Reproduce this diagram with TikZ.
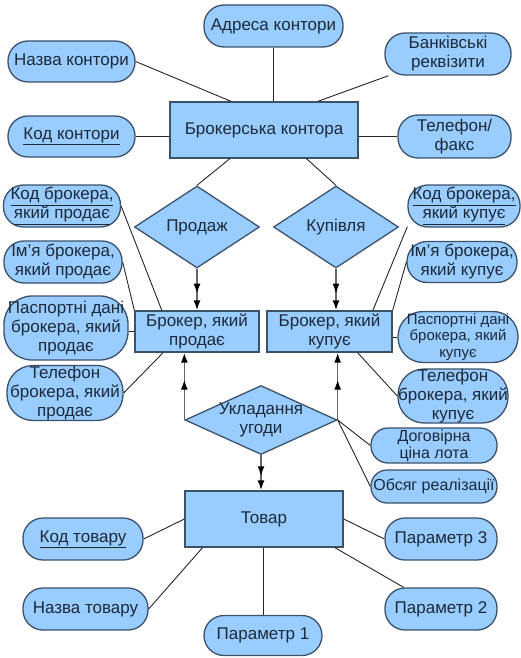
\documentclass[tikz,border=0pt]{standalone}
\usepackage{fontspec}
\setmainfont{Liberation Sans}
\usetikzlibrary{calc,shapes.geometric,arrows.meta,decorations.markings}
\definecolor{boxfill}{HTML}{99CCFF}
\definecolor{boxline}{HTML}{3B526B}
\definecolor{boxtext}{HTML}{1C2A3A}

\begin{document}
\begin{tikzpicture}[x=1pt,y=-1pt,
        every node/.style={font=\fontsize{17}{19}\selectfont, text=boxtext, align=center, inner sep=0pt},
        attr/.style 2 args={rectangle, rounded corners=20pt, draw=boxline, line width=1.3pt, fill=boxfill, minimum width=#1pt, minimum height=#2pt},
        entity/.style 2 args={rectangle, draw=boxline, line width=1.3pt, fill=boxfill, minimum width=#1pt, minimum height=#2pt},
        rel/.style 2 args={diamond, draw=boxline, line width=1.3pt, fill=boxfill, minimum width=#1pt, minimum height=#2pt},
        link/.style={draw=black!85, line width=0.9pt},
        >={Latex[length=10pt,width=7pt,color=black]},
        flow/.style={draw=black!60, line width=1.6pt, ->, postaction={decorate},
            decoration={markings, mark=at position 0.6 with {\arrow{>}}}}]
    \useasboundingbox (0,0) rectangle (521,658);
    % brokerage office
    \node [entity={188}{56}] (office) at (264,130) {Брокерська контора};
    \node [attr={139}{42}] (addr) at (273.5,26) {Адреса контори};
    \node [attr={127}{41}] (name) at (71.5,61.5) {Назва контори};
    \node [attr={126}{42}] (bank) at (448,54) {Банківські\\реквізити};
    \node [attr={127}{41}] (ocode) at (71.5,136.5) {\underline{Код контори}};
    \node [attr={113}{43}] (ophone) at (454.5,136.5) {Телефон/\\факс};
    % relations
    \node [rel={125}{82}] (sale) at (197,227) {Продаж};
    \node [rel={125}{82}] (buy) at (336,227) {Купівля};
    \node [rel={152}{69}] (deal) at (261,420) {};
    \node (dealtext) at (deal) {Укладання\\угоди};
    % seller
    \node [entity={124}{41}] (seller) at (197,331.5) {Брокер, який\\продає};
    \node [attr={117}{42}] (sk) at (62,206) {\underline{Код брокера,}\\\underline{який продає}};
    \node [attr={118}{42}] (si) at (63,262) {Ім’я брокера,\\який продає};
    \node [attr={124}{64}, rounded corners=28pt] (sp) at (66,328) {Паспортні дані\\брокера, який\\продає};
    \node [attr={116}{55}, rounded corners=26pt] (st) at (65,393) {Телефон\\брокера, який\\продає};
    % buyer
    \node [entity={125}{41}] (buyer) at (329.5,331.5) {Брокер, який\\купує};
    \node [attr={112}{42}] (bk) at (464,206) {\underline{Код брокера,}\\\underline{який купує}};
    \node [attr={110}{41}] (bi) at (462,262) {Ім’я брокера,\\який купує};
    \node [attr={120}{51}, rounded corners=25pt, font=\fontsize{15}{16.5}\selectfont] (bp) at (458,337) {Паспортні дані\\брокера, який\\купує};
    \node [attr={110}{54}, rounded corners=26pt] (bt) at (453,396) {Телефон\\брокера, який\\купує};
    % deal attributes
    \node [attr={126}{35}, rounded corners=17pt, font=\fontsize{16}{17}\selectfont] (lot) at (434,445.5) {Договірна\\ціна лота};
    \node [attr={126}{33}, rounded corners=16pt, font=\fontsize{16}{17}\selectfont] (vol) at (434,486.5) {Обсяг реалізації};
    % goods
    \node [entity={158}{56}] (good) at (264,519) {Товар};
    \node [attr={120}{42}] (gcode) at (83,539) {\underline{Код товару}};
    \node [attr={125}{42}] (gname) at (85.5,609) {Назва товару};
    \node [attr={118}{40}] (p1) at (263,635.5) {Параметр 1};
    \node [attr={112}{42}] (p3) at (441,539) {Параметр 3};
    \node [attr={112}{42}] (p2) at (441,609) {Параметр 2};

    \draw [link] (addr.south) -- (addr.south |- office.north);
    \draw [link] (name.east) -- (office.139);
    \draw [link] (office.28) -- (bank);
    \draw [link] (ocode.east) -- (ocode.east -| office.west);
    \draw [link] (ophone.west -| office.east) -- (ophone.west);
    \draw [link] (office.220) -- (sale.north);
    \draw [link] (office.-34) -- (buy.north);
    \draw [flow] (sale.south) -- (seller.north);
    \draw [flow] (buy.south) -- (buy.south |- buyer.north);
    \draw [link] (sk.east) -- (seller.149);
    \draw [link] (si.east) -- (seller.north west);
    \draw [link] (sp.east |- seller.west) -- (seller.west);
    \draw [link] (st.east) -- (seller.212);
    \draw [link] (buyer.26) -- (bk.200);
    \draw [link] (bi.west) -- (buyer.north east);
    \draw [link] (buyer.east |- bp.west) -- (bp.west);
    \draw [link] (buyer.-37) -- (bt.west);
    \draw [flow] (deal.west) -- (deal.west |- seller.south);
    \draw [flow] (deal.east) -- (deal.east |- buyer.south);
    \draw [flow] (deal.south) -- (deal.south |- good.north);
    \draw [link] (deal.east) -- (lot.west);
    \draw [link] (deal.east) -- (vol.west);
    \draw [link] (gcode.east) -- (good.west);
    \draw [link] (gname.east) -- (good.205);
    \draw [link] (p1.north) -- (p1.north |- good.south);
    \draw [link] (good.east) -- (p3.west);
    \draw [link] (good.-22) -- (p2);
\end{tikzpicture}
\end{document}
